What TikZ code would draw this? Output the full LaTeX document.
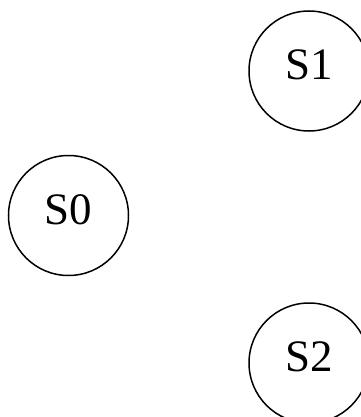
\documentclass[tikz,border=0pt]{standalone}
\usepackage{fontspec}
\setmainfont{Liberation Serif}
\begin{document}
\begin{tikzpicture}[x=1pt,y=-1pt]
    \useasboundingbox (0,0) rectangle (360,417);
    \node[shape=circle,draw=black,line width=1.5pt,minimum size=120pt,inner sep=0pt,text depth=12pt,font=\fontsize{45}{50}\selectfont] (0) at (68.5,215.5) {S0};
    \node[shape=circle,draw=black,line width=1.5pt,minimum size=120pt,inner sep=0pt,text depth=12pt,font=\fontsize{45}{50}\selectfont] (1) at (309,71) {S1};
    \node[shape=circle,draw=black,line width=1.5pt,minimum size=120pt,inner sep=0pt,text depth=12pt,font=\fontsize{45}{50}\selectfont] (2) at (309,363) {S2};
\end{tikzpicture}
\end{document}
